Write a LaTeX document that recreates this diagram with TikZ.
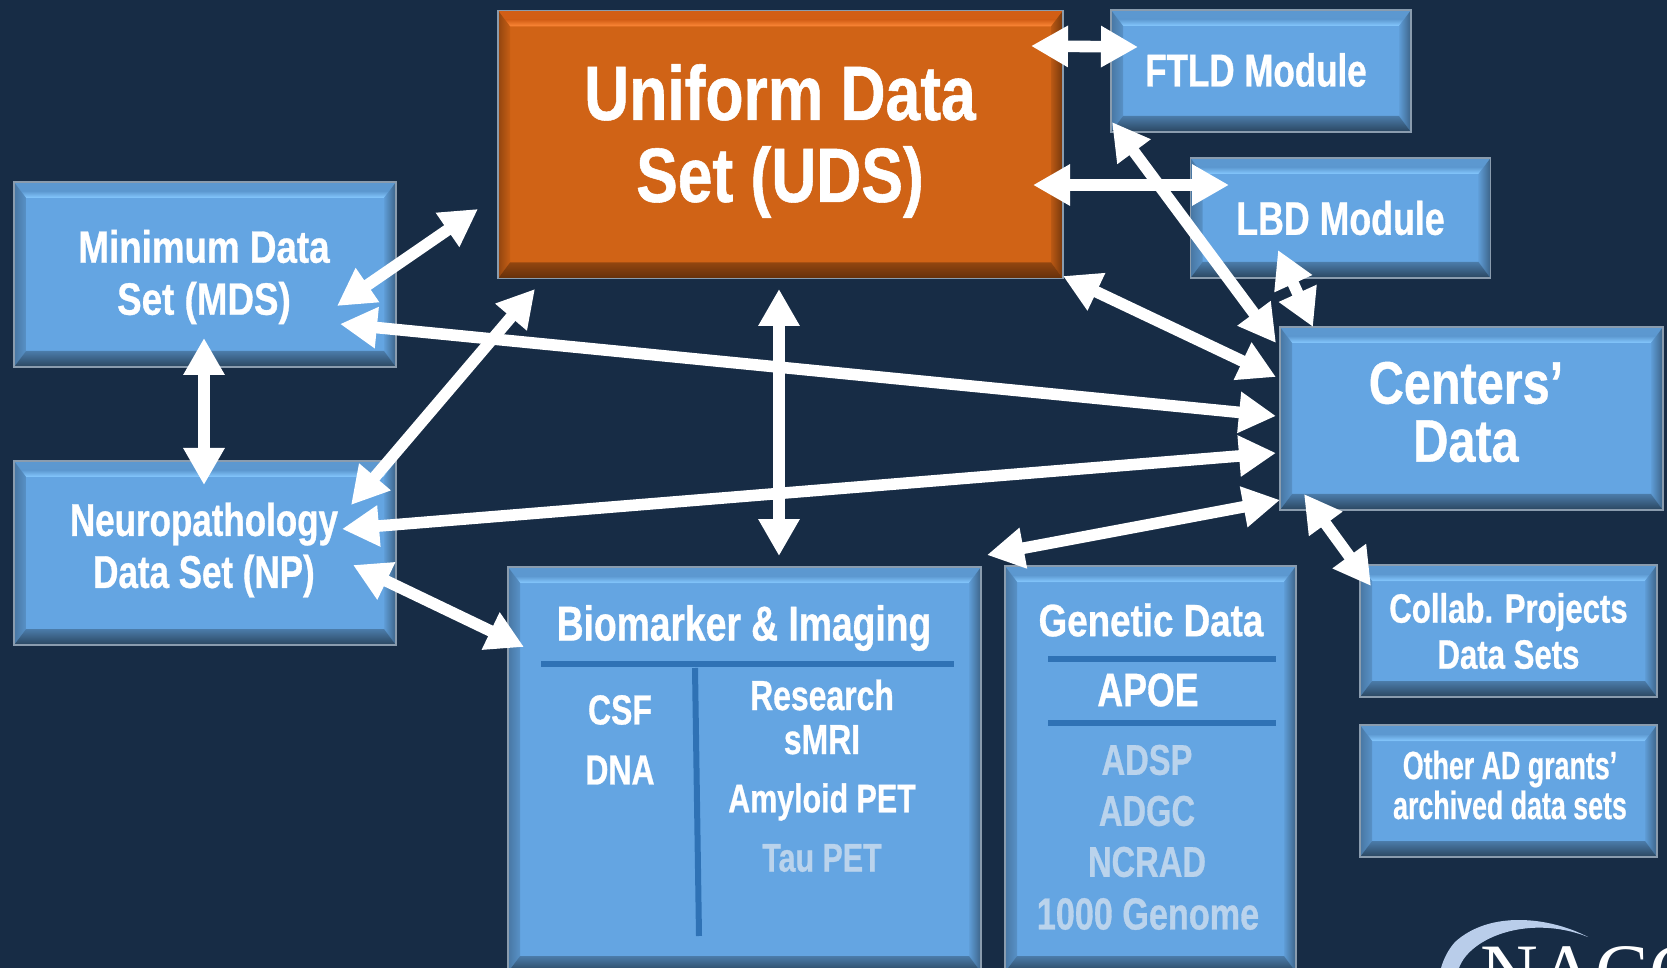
\documentclass[tikz,border=0pt]{standalone}
\usepackage{fontspec}
\setmainfont{Liberation Sans}[FakeStretch=0.76,FakeBold=0.7]
\newfontfamily\midfont{Liberation Sans}[FakeStretch=0.81,FakeBold=0.7]
\newfontfamily\tightfont{Liberation Sans}[FakeStretch=0.68,FakeBold=0.5]
\newfontfamily\logofont{Liberation Serif}
\usetikzlibrary{arrows.meta}

\definecolor{slide}{HTML}{172C45}
\definecolor{boxblue}{HTML}{64A5E2}
\definecolor{boxedge}{HTML}{8A9CAE}
\definecolor{uniorange}{HTML}{D06316}
\definecolor{rulerblue}{HTML}{2F72B5}
\definecolor{paleblue}{HTML}{BAD3EC}
\definecolor{swoosh}{HTML}{B9CDEA}
\definecolor{bluelight}{HTML}{86C9FF}
\definecolor{orangelight}{HTML}{FF8A3A}

% bevel of a box: top, top highlight, left, right, bottom
\newcommand{\bevel}[5]{
  \fill [#1] (path picture bounding box.north west) -- (path picture bounding box.north east)
    -- ([xshift=-6pt,yshift=-8pt]path picture bounding box.north east) -- ([xshift=6pt,yshift=-8pt]path picture bounding box.north west) -- cycle;
  \shade [top color=#1, bottom color=#2] ([xshift=3.5pt,yshift=-4.5pt]path picture bounding box.north west) -- ([xshift=-3.5pt,yshift=-4.5pt]path picture bounding box.north east)
    -- ([xshift=-6pt,yshift=-8pt]path picture bounding box.north east) -- ([xshift=6pt,yshift=-8pt]path picture bounding box.north west) -- cycle;
  \shade [#3] (path picture bounding box.north west) -- ([xshift=6pt,yshift=-8pt]path picture bounding box.north west)
    -- ([xshift=6pt,yshift=8pt]path picture bounding box.south west) -- (path picture bounding box.south west) -- cycle;
  \shade [#4] (path picture bounding box.north east) -- ([xshift=-6pt,yshift=-8pt]path picture bounding box.north east)
    -- ([xshift=-6pt,yshift=8pt]path picture bounding box.south east) -- (path picture bounding box.south east) -- cycle;
  \shade [#5] (path picture bounding box.south west) -- ([xshift=6pt,yshift=8pt]path picture bounding box.south west)
    -- ([xshift=-6pt,yshift=8pt]path picture bounding box.south east) -- (path picture bounding box.south east) -- cycle;
}

\tikzset{
  plate/.style={draw=boxedge, line width=0.9pt, inner sep=0pt, align=center, text=white, font=\bfseries\fontsize{23.5}{26}\selectfont},
  bluebox/.style={plate, fill=boxblue, path picture={\bevel{boxblue!92!black}{bluelight}{left color=boxblue!72!black, right color=boxblue!88!black}{left color=boxblue!95!black, right color=boxblue!60!black}{top color=boxblue!75!black, bottom color=boxblue!42!black}}},
  orangebox/.style={plate, fill=uniorange, path picture={\bevel{uniorange!95!red}{orangelight}{left color=uniorange!70!black, right color=uniorange!95!black}{left color=uniorange!90!black, right color=uniorange!55!black}{top color=uniorange!70!black, bottom color=uniorange!48!black}}},
  boxtext/.style={align=center, text=white, inner sep=0pt, font=\bfseries\fontsize{23}{26}\selectfont},
  dimtext/.style={boxtext, text=paleblue, font=\bfseries\fontsize{21.5}{24}\selectfont},
  linkarrow/.style={draw=white, line width=5.8pt, {Triangle[length=18.5pt,width=19.5pt]}-{Triangle[length=18.5pt,width=19.5pt]}},
  ruler/.style={draw=rulerblue, line width=3pt}
}

\begin{document}
\begin{tikzpicture}[x=0.5pt,y=-0.5pt]
\useasboundingbox (0,0) rectangle (1667,968);
\clip (0,0) rectangle (1667,968);
\fill [slide] (0,0) rectangle (1667,968);

%the boxes
\node (uds) [orangebox, minimum width=282.5pt, minimum height=134pt] at (780.5,144.5) {};
\node (ftld) [bluebox, minimum width=150pt, minimum height=61pt] at (1261,71) {};
\node (lbd) [bluebox, minimum width=150pt, minimum height=60pt] at (1340.5,218) {LBD Module};
\node (mds) [bluebox, minimum width=191pt, minimum height=92.5pt] at (205,274.5) {};
\node (np) [bluebox, minimum width=191pt, minimum height=92pt] at (205,553) {};
\node (centers) [bluebox, minimum width=191.5pt, minimum height=91.5pt] at (1471.5,418.5) {};
\node (bio) [bluebox, minimum width=236.5pt, minimum height=202.5pt] at (744.5,769.5) {};
\node (genetic) [bluebox, minimum width=145.5pt, minimum height=203pt] at (1150.5,769) {};
\node (collab) [bluebox, minimum width=148.5pt, minimum height=66pt, font=\bfseries\fontsize{20.5}{23}\selectfont] at (1508.5,631) {Collab. Projects\\Data Sets};
\node (other) [bluebox, minimum width=148.5pt, minimum height=66pt] at (1508.5,791) {};

%the labels
\node (udsText) [boxtext, font=\midfont\bfseries\fontsize{38.5}{41}\selectfont] at (780,141) {Uniform Data\\Set (UDS)};
\node (ftldText) [boxtext] at (1256,70) {FTLD Module};
\node (mdsText) [boxtext, font=\midfont\bfseries\fontsize{22.7}{26}\selectfont] at (204,277) {Minimum Data\\Set (MDS)};
\node (npText) [boxtext] at (204,550) {Neuropathology\\Data Set (NP)};
\node (centersText) [boxtext, font=\midfont\bfseries\fontsize{30}{29}\selectfont] at (1466,412) {Centers’\\Data};
\node (otherText) [boxtext, font=\tightfont\bfseries\fontsize{19.7}{20}\selectfont] at (1510,785) {Other AD grants’\\archived data sets};

%biomarker box
\node (bioTitle) [boxtext, font=\bfseries\fontsize{24.5}{26}\selectfont] at (744,628) {Biomarker \& Imaging};
\node (csf) [boxtext, font=\bfseries\fontsize{21}{23}\selectfont] at (620,710) {CSF};
\node (dna) [boxtext, font=\bfseries\fontsize{21}{23}\selectfont] at (620,770) {DNA};
\node (smri) [boxtext, font=\bfseries\fontsize{21}{22}\selectfont] at (822,717) {Research\\sMRI};
\node (amyloid) [boxtext, font=\bfseries\fontsize{20}{23}\selectfont] at (822,802) {Amyloid PET};
\node (tau) [dimtext, font=\bfseries\fontsize{20}{23}\selectfont] at (822,858) {Tau PET};
\coordinate (bioRuleL) at (541,664);
\coordinate (bioRuleR) at (954,664);
\coordinate (bioRuleT) at (695,668);
\coordinate (bioRuleB) at (699,936);
\draw [ruler] (bioRuleL) -- (bioRuleR);
\draw [ruler] (bioRuleT) -- (bioRuleB);

%genetic box
\node (geneticTitle) [boxtext, font=\midfont\bfseries\fontsize{22.7}{26}\selectfont] at (1151,620) {Genetic Data};
\node (apoe) [boxtext, font=\bfseries\fontsize{23.5}{26}\selectfont] at (1148,690) {APOE};
\node (adsp) [dimtext] at (1147,760) {ADSP};
\node (adgc) [dimtext] at (1147,811) {ADGC};
\node (ncrad) [dimtext] at (1147,862) {NCRAD};
\node (genome) [dimtext, font=\bfseries\fontsize{22.5}{24}\selectfont] at (1148,914) {1000 Genome};
\coordinate (genRuleA) at (1048,659);
\coordinate (genRuleB) at (1276,659);
\coordinate (genRuleC) at (1048,723);
\coordinate (genRuleD) at (1276,723);
\draw [ruler] (genRuleA) -- (genRuleB);
\draw [ruler] (genRuleC) -- (genRuleD);

%the logo
\fill [swoosh] (1588,937) .. controls (1550,917) and (1490,910) .. (1455,942) .. controls (1448,950) and (1444,958) .. (1441,968) -- (1459,968) .. controls (1470,937) and (1530,914) .. (1588,937) -- cycle;
\node (logo) [anchor=base west, inner sep=0pt, text=white, font=\logofont\fontsize{40}{40}\selectfont] at (1480,999) {NACC};

%arrow ends
\coordinate (udsFtld) at (1031,46);
\coordinate (ftldUds) at (1138,47);
\coordinate (udsLbd) at (1033,185);
\coordinate (lbdUds) at (1229,185);
\coordinate (ftldCenters) at (1112,122);
\coordinate (centersFtld) at (1276,343);
\coordinate (lbdCenters) at (1278,250);
\coordinate (centersLbd) at (1313,327);
\coordinate (udsCenters) at (1063,276);
\coordinate (centersUds) at (1276,377);
\coordinate (mdsUds) at (337,306);
\coordinate (udsMds) at (478,209);
\coordinate (mdsCenters) at (340,324);
\coordinate (centersMds) at (1276,416);
\coordinate (mdsNp) at (204,338);
\coordinate (npMds) at (204,485);
\coordinate (npUds) at (351,505);
\coordinate (udsNp) at (535,289);
\coordinate (npCenters) at (342,529);
\coordinate (centersNp) at (1276,453);
\coordinate (udsBio) at (779,289);
\coordinate (bioUds) at (779,556);
\coordinate (npBio) at (353,565);
\coordinate (bioNp) at (524,647);
\coordinate (centersGen) at (1280,500);
\coordinate (genCenters) at (987,555);
\coordinate (centersCollab) at (1304,494);
\coordinate (collabCenters) at (1371,586);

%the arrows
\draw [linkarrow] (udsFtld) -- (ftldUds);
\draw [linkarrow] (udsLbd) -- (lbdUds);
\draw [linkarrow] (ftldCenters) -- (centersFtld);
\draw [linkarrow] (lbdCenters) -- (centersLbd);
\draw [linkarrow] (udsCenters) -- (centersUds);
\draw [linkarrow] (mdsUds) -- (udsMds);
\draw [linkarrow] (mdsCenters) -- (centersMds);
\draw [linkarrow] (mdsNp) -- (npMds);
\draw [linkarrow] (npUds) -- (udsNp);
\draw [linkarrow] (npCenters) -- (centersNp);
\draw [linkarrow] (udsBio) -- (bioUds);
\draw [linkarrow] (npBio) -- (bioNp);
\draw [linkarrow] (centersGen) -- (genCenters);
\draw [linkarrow] (centersCollab) -- (collabCenters);
\end{tikzpicture}
\end{document}
